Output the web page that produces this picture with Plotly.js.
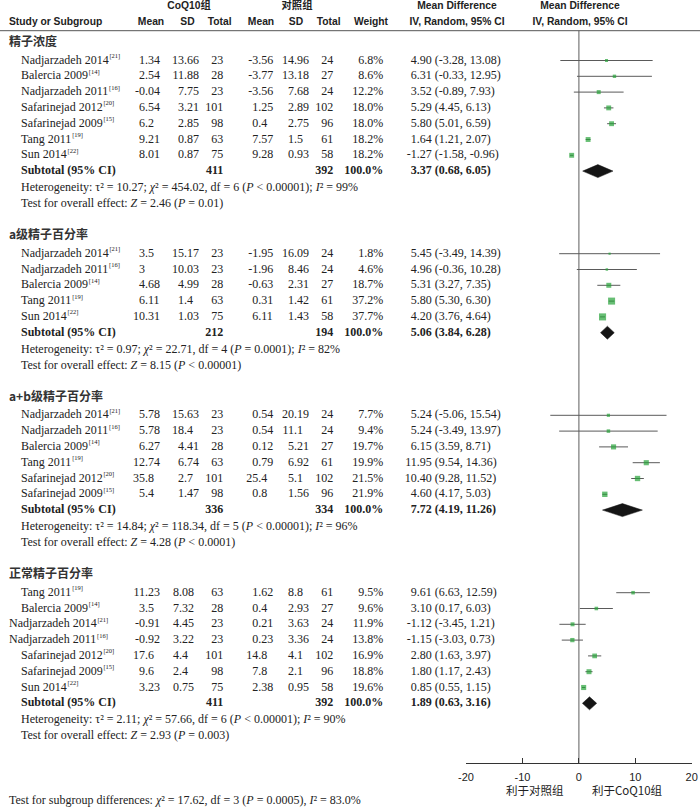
<!DOCTYPE html>
<html><head><meta charset="utf-8">
<script src="https://cdn.plot.ly/plotly-3.0.1.min.js"></script>
<style>html,body{margin:0;padding:0;background:#fff}#chart{width:700px;height:807px}</style>
</head><body><div id="chart"></div>
<script>
// ================= DATA =================
const groupNames = ['精子浓度', 'a级精子百分率', 'a+b级精子百分率', '正常精子百分率'];
const studyGroup = [0,0,0,0,0,0,0, 1,1,1,1,1, 2,2,2,2,2,2, 3,3,3,3,3,3,3];
const studyNames = ['Nadjarzadeh 2014','Balercia 2009','Nadjarzadeh 2011','Safarinejad 2012','Safarinejad 2009','Tang 2011','Sun 2014',
  'Nadjarzadeh 2014','Nadjarzadeh 2011','Balercia 2009','Tang 2011','Sun 2014',
  'Nadjarzadeh 2014','Nadjarzadeh 2011','Balercia 2009','Tang 2011','Safarinejad 2012','Safarinejad 2009',
  'Tang 2011','Balercia 2009','Nadjarzadeh 2014','Nadjarzadeh 2011','Safarinejad 2012','Safarinejad 2009','Sun 2014'];
const studyRefs = ['21','14','16','20','15','19','22', '21','16','14','19','22', '21','16','14','19','20','15', '19','14','21','16','20','15','22'];
const coqMean = [1.34,2.54,-0.04,6.54,6.2,9.21,8.01, 3.5,3,4.68,6.11,10.31, 5.78,5.78,6.27,12.74,35.8,5.4, 11.23,3.5,-0.91,-0.92,17.6,9.6,3.23];
const coqSD   = [13.66,11.88,7.75,3.21,2.85,0.87,0.87, 15.17,10.03,4.99,1.4,1.03, 15.63,18.4,4.41,6.74,2.7,1.47, 8.08,7.32,4.45,3.22,4.4,2.4,0.75];
const coqN    = [23,28,23,101,98,63,75, 23,23,28,63,75, 23,23,28,63,101,98, 63,28,23,23,101,98,75];
const ctlMean = [-3.56,-3.77,-3.56,1.25,0.4,7.57,9.28, -1.95,-1.96,-0.63,0.31,6.11, 0.54,0.54,0.12,0.79,25.4,0.8, 1.62,0.4,0.21,0.23,14.8,7.8,2.38];
const ctlSD   = [14.96,13.18,7.68,2.89,2.75,1.5,0.93, 16.09,8.46,2.31,1.42,1.43, 20.19,11.1,5.21,6.92,5.1,1.56, 8.8,2.93,3.63,3.36,4.1,2.1,0.95];
const ctlN    = [24,27,24,102,96,61,58, 24,24,27,61,58, 24,24,27,61,102,96, 61,27,24,24,102,96,58];
const weight  = [6.8,8.6,12.2,18.0,18.0,18.2,18.2, 1.8,4.6,18.7,37.2,37.7, 7.7,9.4,19.7,19.9,21.5,21.9, 9.5,9.6,11.9,13.8,16.9,18.8,19.6];
const md      = [4.90,6.31,3.52,5.29,5.80,1.64,-1.27, 5.45,4.96,5.31,5.80,4.20, 5.24,5.24,6.15,11.95,10.40,4.60, 9.61,3.10,-1.12,-1.15,2.80,1.80,0.85];
const ciLow   = [-3.28,-0.33,-0.89,4.45,5.01,1.21,-1.58, -3.49,-0.36,3.27,5.30,3.76, -5.06,-3.49,3.59,9.54,9.28,4.17, 6.63,0.17,-3.45,-3.03,1.63,1.17,0.55];
const ciHigh  = [13.08,12.95,7.93,6.13,6.59,2.07,-0.96, 14.39,10.28,7.35,6.30,4.64, 15.54,13.97,8.71,14.36,11.52,5.03, 12.59,6.03,1.21,0.73,3.97,2.43,1.15];

const subCoqN = [411,212,336,411];
const subCtlN = [392,194,334,392];
const subWeight = [100.0,100.0,100.0,100.0];
const subMD   = [3.37,5.06,7.72,1.89];
const subLow  = [0.68,3.84,4.19,0.63];
const subHigh = [6.05,6.28,11.26,3.16];
const hetTau2 = ['10.27','0.97','14.84','2.11'];
const hetChi2 = ['454.02','22.71','118.34','57.66'];
const hetDf   = [6,4,5,6];
const hetP    = ['&lt; 0.00001','= 0.0001','&lt; 0.00001','&lt; 0.00001'];
const hetI2   = [99,82,96,90];
const zVal    = ['2.46','8.15','4.28','2.93'];
const zP      = ['= 0.01','&lt; 0.00001','&lt; 0.0001','= 0.003'];
const sgChi2 = '17.62', sgDf = 3, sgP = '= 0.0005', sgI2 = '83.0%';

const axisTicks = [-20,-10,0,10,20];
const favourLabels = ['利于对照组','利于CoQ10组'];
const headerGroupLabels = ['CoQ10组','对照组'];
const colHeaders = ['Study or Subgroup','Mean','SD','Total','Mean','SD','Total','Weight'];

// ================= LAYOUT CONSTANTS (pixels) =================
const SERIF = 'Liberation Serif, Times New Roman, serif';
const SANS = 'Liberation Sans, Arial, Noto Sans CJK SC, sans-serif';
const CJK = 'Noto Sans CJK SC, Liberation Sans, sans-serif';
const TXT = '#222';
const FS = 12;
const GREEN = '#27a239';

const X_GROUP = 9, X_NAME = 21;
const NAME_X_OVERRIDE = {20: 9, 21: 9};
const X_COQ_MEAN_DEC = 145;
const X_COQ_SD_DEC = [184,184,184,179];
const X_COQ_N = 223.3;
const X_CTL_MEAN_DEC = 258.3;
const X_CTL_SD_DEC = 294;
const X_CTL_N = 333.3;
const X_WEIGHT = 383.3;
const X_MD_DEC = 416.7;

const Y_H1 = 6.5, Y_H2 = 22, Y_HLINE = 30.7;
const Y_FIRST_GROUP = 42.7, G2ROW = 17.8, STEP = 15.8, SUB2HET = 16.8, HET2TEST = 16, TEST2GROUP = 32;
const Y_AXIS = 763.3, Y_FAV = 790, Y_SG = 801;
const DIAMOND_H = 6.5;
const REF_SIZE = 6.5, REF_DY = -4.2;

// ---- compute row positions ----
const groupY = [], rowY = [], subY = [], hetY = [], testY = [];
let y = Y_FIRST_GROUP;
for (let g = 0; g < groupNames.length; g++) {
  groupY[g] = y;
  y += G2ROW;
  let last = y;
  studyGroup.forEach((sg, i) => { if (sg === g) { rowY[i] = y; last = y; y += STEP; } });
  subY[g] = last + STEP;
  hetY[g] = subY[g] + SUB2HET;
  testY[g] = hetY[g] + HET2TEST;
  y = testY[g] + TEST2GROUP;
}

function split(v) { const s = String(v); const k = s.indexOf('.'); return k < 0 ? [s, ''] : [s.slice(0, k), s.slice(k)]; }
function f2(v) { return v.toFixed(2); }
const ctx = document.createElement('canvas').getContext('2d');
ctx.font = FS + "px 'Liberation Serif'";
function textW(s) { return ctx.measureText(s).width; }

const traces = [];
function textTrace(xs, ys, texts, pos, font) {
  const keep = texts.map((t, i) => t !== '' ? i : -1).filter(i => i >= 0);
  traces.push({type:'scatter', mode:'text', x:keep.map(i => xs[i]), y:keep.map(i => ys[i]), text:keep.map(i => texts[i]), textposition:pos,
    textfont:Object.assign({family:SERIF, size:FS, color:TXT}, font||{}),
    xaxis:'x2', yaxis:'y', hoverinfo:'skip', showlegend:false, cliponaxis:false});
}
const idx = studyNames.map((_, i) => i);
const ys = idx.map(i => rowY[i]);

// study names + reference superscripts
const nameX = idx.map(i => NAME_X_OVERRIDE[i] !== undefined ? NAME_X_OVERRIDE[i] : X_NAME);
textTrace(nameX, ys, studyNames, 'middle right');
textTrace(idx.map(i => nameX[i] + textW(studyNames[i]) + 0.8), ys.map(v => v + REF_DY),
  idx.map(i => '[' + studyRefs[i] + ']'), 'middle right', {size:REF_SIZE});
// decimal-aligned columns
function decCol(values, decX, suffixFn) {
  const xs = idx.map(i => Array.isArray(decX) ? decX[studyGroup[i]] : decX);
  textTrace(xs, ys, idx.map(i => split(values[i])[0]), 'middle left');
  textTrace(xs, ys, idx.map(i => split(values[i])[1] + (suffixFn ? suffixFn(i) : '')), 'middle right');
}
decCol(coqMean, X_COQ_MEAN_DEC);
decCol(coqSD, X_COQ_SD_DEC);
decCol(ctlMean, X_CTL_MEAN_DEC);
decCol(ctlSD, X_CTL_SD_DEC);
textTrace(idx.map(() => X_COQ_N), ys, coqN.map(String), 'middle left');
textTrace(idx.map(() => X_CTL_N), ys, ctlN.map(String), 'middle left');
textTrace(idx.map(() => X_WEIGHT), ys, weight.map(w => w.toFixed(1) + '%'), 'middle left');
decCol(md.map(f2), X_MD_DEC, i => ' (' + f2(ciLow[i]) + ', ' + f2(ciHigh[i]) + ')');

// group headers
textTrace(groupNames.map(() => X_GROUP), groupY, groupNames, 'middle right', {family:CJK, size:12, color:'#333', weight:'bold'});
// subtotals
const gi = groupNames.map((_, g) => g);
const B = {weight:'bold'};
textTrace(gi.map(() => X_NAME), subY, gi.map(() => 'Subtotal (95% CI)'), 'middle right', B);
textTrace(gi.map(() => X_COQ_N), subY, subCoqN.map(String), 'middle left', B);
textTrace(gi.map(() => X_CTL_N), subY, subCtlN.map(String), 'middle left', B);
textTrace(gi.map(() => X_WEIGHT), subY, subWeight.map(w => w.toFixed(1) + '%'), 'middle left', B);
textTrace(gi.map(() => X_MD_DEC), subY, subMD.map(v => split(f2(v))[0]), 'middle left', B);
textTrace(gi.map(() => X_MD_DEC), subY, gi.map(g => split(f2(subMD[g]))[1] + ' (' + f2(subLow[g]) + ', ' + f2(subHigh[g]) + ')'), 'middle right', B);
// heterogeneity & overall effect
textTrace(gi.map(() => X_NAME), hetY, gi.map(g => 'Heterogeneity: τ² = ' + hetTau2[g] + '; <i>χ</i>² = ' + hetChi2[g] +
  ', df = ' + hetDf[g] + ' (<i>P</i> ' + hetP[g] + '); <i>I</i>² = ' + hetI2[g] + '%'), 'middle right');
textTrace(gi.map(() => X_NAME), testY, gi.map(g => 'Test for overall effect: <i>Z</i> = ' + zVal[g] + ' (<i>P</i> ' + zP[g] + ')'), 'middle right');
textTrace([X_GROUP], [Y_SG], ['Test for subgroup differences: <i>χ</i>² = ' + sgChi2 + ', df = ' + sgDf + ' (<i>P</i> ' + sgP + '), <i>I</i>² = ' + sgI2], 'middle right');

// column headers
const HF = {family:SANS, size:10.3, color:TXT, weight:'bold'};
textTrace([X_GROUP], [Y_H2], [colHeaders[0]], 'middle right', HF);
textTrace([151, 187.5, 231.5, 261, 296, 340.5, 371], [Y_H2,Y_H2,Y_H2,Y_H2,Y_H2,Y_H2,Y_H2],
  colHeaders.slice(1), ['middle center','middle center','middle left','middle center','middle center','middle left','middle center'], HF);
textTrace([189, 297], [Y_H1, Y_H1], headerGroupLabels, 'middle center', HF);
textTrace([457, 580], [Y_H1, Y_H1], ['Mean Difference','Mean Difference'], 'middle center', HF);
textTrace([457, 580], [Y_H2, Y_H2], ['IV, Random, 95% CI','IV, Random, 95% CI'], 'middle center', HF);

// forest: studies
traces.push({type:'scatter', mode:'markers', x:md, y:ys, xaxis:'x', yaxis:'y',
  marker:{symbol:'square', color:GREEN, size:weight.map(w => Math.max(2.2, 1.15 * Math.sqrt(w))), line:{width:0}},
  error_x:{type:'data', symmetric:false, array:md.map((m, i) => ciHigh[i] - m), arrayminus:md.map((m, i) => m - ciLow[i]),
    width:0, thickness:1, color:'#5a5a5a'},
  hoverinfo:'skip', showlegend:false, cliponaxis:false});
// forest: diamonds
gi.forEach(g => {
  traces.push({type:'scatter', mode:'lines', xaxis:'x', yaxis:'y',
    x:[subLow[g], subMD[g], subHigh[g], subMD[g], subLow[g]],
    y:[subY[g], subY[g] - DIAMOND_H, subY[g], subY[g] + DIAMOND_H, subY[g]],
    fill:'toself', fillcolor:'#151515', line:{color:'#151515', width:0.5},
    hoverinfo:'skip', showlegend:false, cliponaxis:false});
});

const layout = {
  width:700, height:807, margin:{l:0, r:0, t:0, b:0}, paper_bgcolor:'#fff', plot_bgcolor:'rgba(0,0,0,0)',
  showlegend:false,
  xaxis:{domain:[466/700, 691.7/700], range:[-20, 20], anchor:'free', position:1 - Y_AXIS / 807,
    showline:true, linecolor:'#333', linewidth:1, ticks:'inside', ticklen:5, tickwidth:1, tickcolor:'#333',
    tickvals:axisTicks, ticktext:axisTicks.map(String), showgrid:false, zeroline:false,
    tickfont:{family:SANS, size:11, color:TXT}, ticklabelstandoff:3, fixedrange:true},
  xaxis2:{domain:[0, 1], range:[0, 700], anchor:'y', visible:false, fixedrange:true},
  yaxis:{domain:[0, 1], range:[807, 0], visible:false, anchor:'x2', fixedrange:true},
  shapes:[
    {type:'line', xref:'paper', yref:'y', x0:0, x1:1, y0:Y_HLINE, y1:Y_HLINE, line:{color:'#555', width:1}},
    {type:'line', xref:'x', yref:'y', x0:0, x1:0, y0:Y_HLINE, y1:Y_AXIS, line:{color:'#9a9a9a', width:1.6}, layer:'below'}
  ],
  annotations:[
    {xref:'x2', yref:'y', x:535, y:Y_FAV, text:favourLabels[0], showarrow:false, font:{family:CJK, size:11.5, color:TXT}, xanchor:'center', yanchor:'middle'},
    {xref:'x2', yref:'y', x:627, y:Y_FAV, text:favourLabels[1], showarrow:false, font:{family:CJK, size:11.5, color:TXT}, xanchor:'center', yanchor:'middle'}
  ]
};
Plotly.newPlot('chart', traces, layout, {staticPlot:true, displayModeBar:false});
</script></body></html>
